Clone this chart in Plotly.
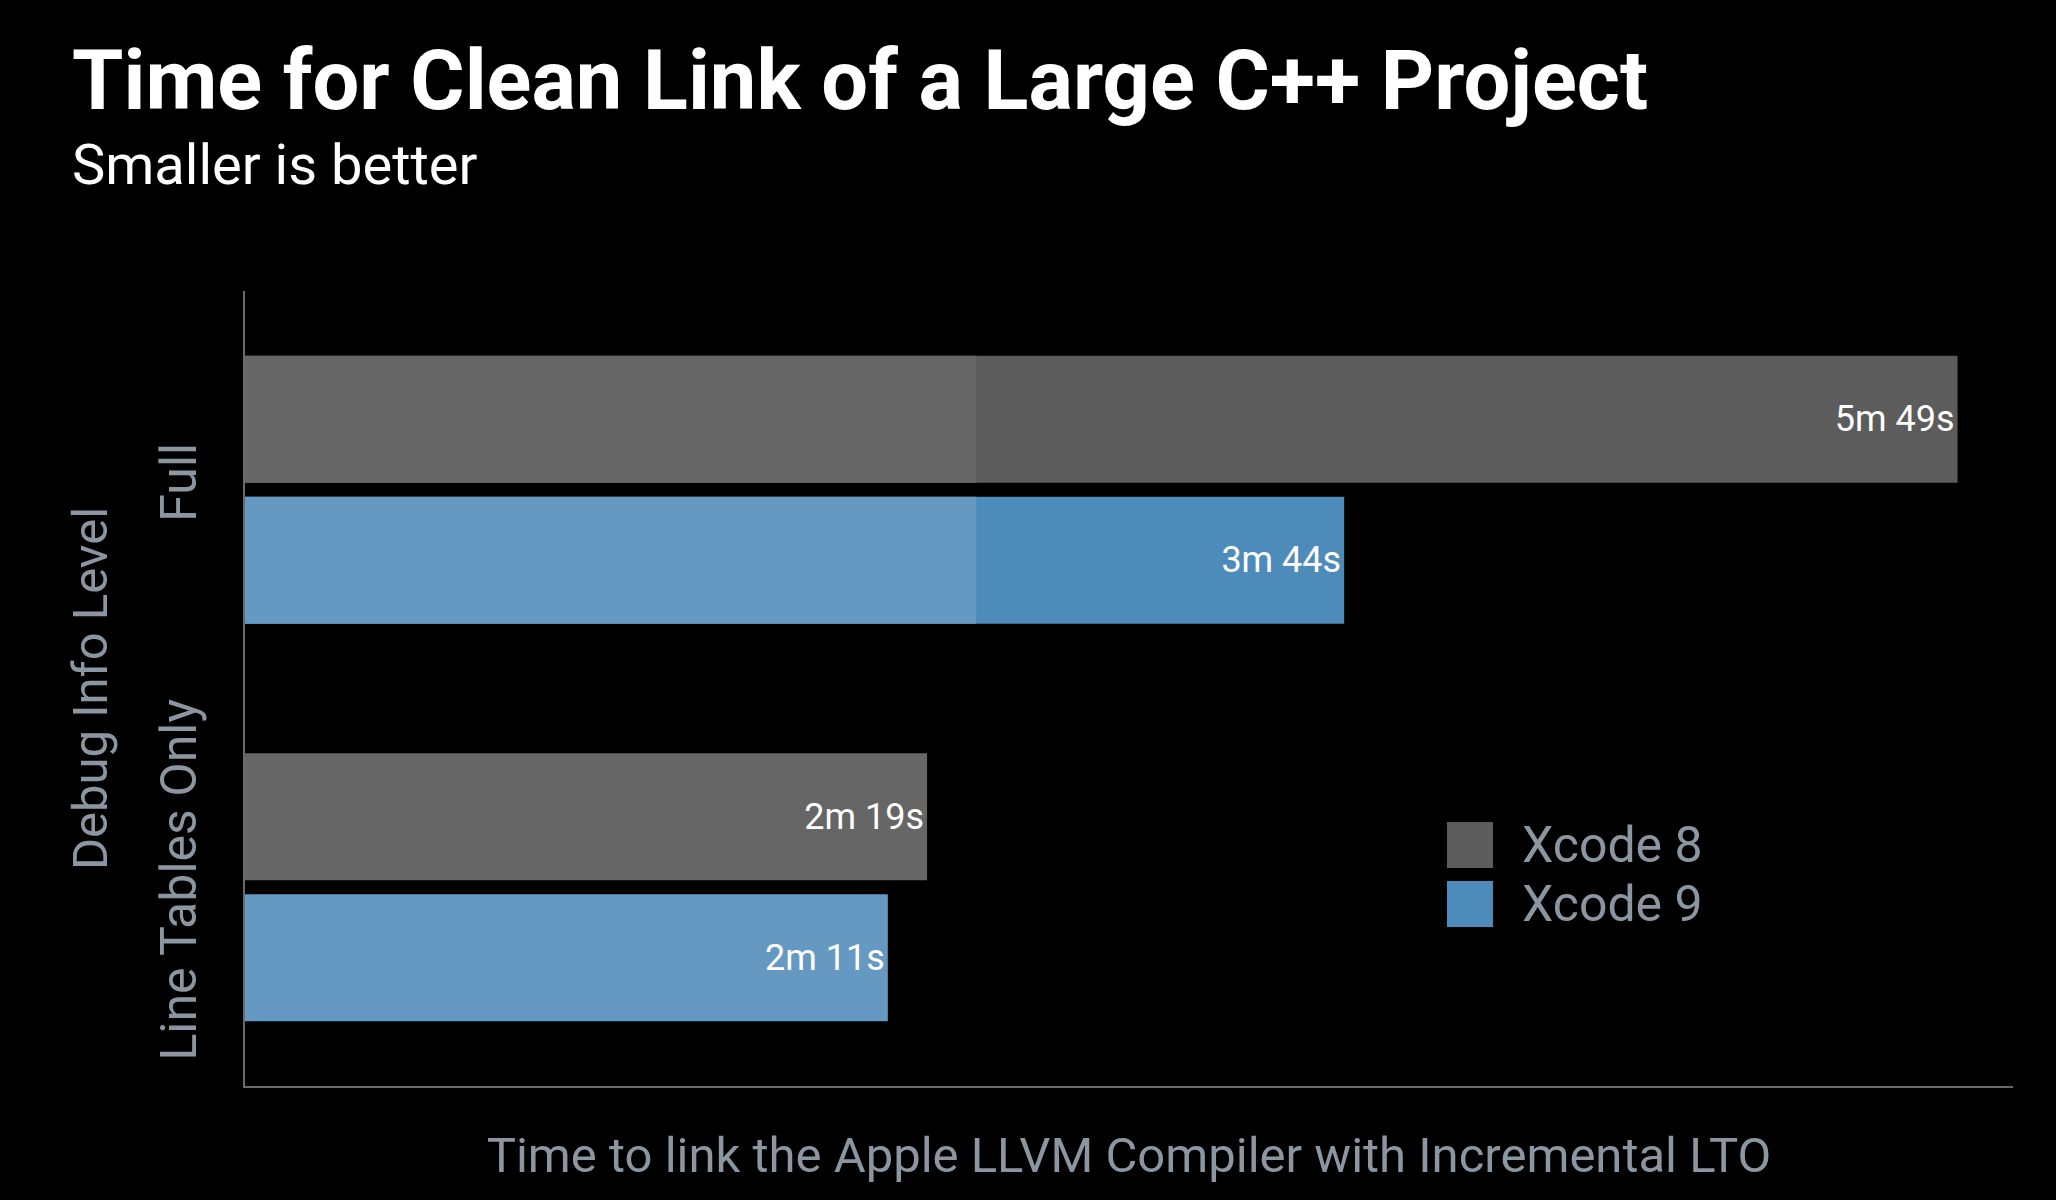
import plotly.graph_objects as go

# ---- data ----
categories = ["Full", "Line Tables Only"]
xcode8_seconds = [349, 139]
xcode9_seconds = [224, 131]
# lighter leading segment visible on the "Full" bars (seconds)
highlight_categories = ["Full"]
highlight_seconds = [149]
series_names = ["Xcode 8", "Xcode 9"]

title_text = "Time for Clean Link of a Large C++ Project"
subtitle_text = "Smaller is better"
x_title = "Time to link the Apple LLVM Compiler with Incremental LTO"
y_title = "Debug Info Level"

# ---- styles ----
GRAY_DARK = "#5c5c5c"
GRAY_LIGHT = "#666666"
BLUE_DARK = "#4d8cba"
BLUE_LIGHT = "#6699c2"
LABEL_GRAY = "#8b96a1"
FONT = "Roboto"


def fmt(s):
    return f"{s // 60}m {s % 60}s"


fig = go.Figure()

fig.add_trace(go.Bar(
    name=series_names[0], y=categories, x=xcode8_seconds, orientation="h",
    offsetgroup="x8",
    marker=dict(color=[GRAY_DARK, GRAY_LIGHT], line=dict(width=0)),
    text=[fmt(v) for v in xcode8_seconds], textposition="inside",
    insidetextanchor="end", textangle=0,
    textfont=dict(family=FONT, size=36, color="white"),
    showlegend=False, hoverinfo="skip",
))
fig.add_trace(go.Bar(
    name=series_names[1], y=categories, x=xcode9_seconds, orientation="h",
    offsetgroup="x9",
    marker=dict(color=[BLUE_DARK, BLUE_LIGHT], line=dict(width=0)),
    text=[fmt(v) for v in xcode9_seconds], textposition="inside",
    insidetextanchor="end", textangle=0,
    textfont=dict(family=FONT, size=36, color="white"),
    showlegend=False, hoverinfo="skip",
))
# lighter overlays on the Full bars
fig.add_trace(go.Bar(
    y=highlight_categories, x=highlight_seconds, orientation="h",
    offsetgroup="x8", marker=dict(color=GRAY_LIGHT, line=dict(width=0)),
    showlegend=False, hoverinfo="skip",
))
fig.add_trace(go.Bar(
    y=highlight_categories, x=highlight_seconds, orientation="h",
    offsetgroup="x9", marker=dict(color=BLUE_LIGHT, line=dict(width=0)),
    showlegend=False, hoverinfo="skip",
))

W, H = 2056, 1200
L, R, T, B = 245, 43, 291, 114
pw, ph = W - L - R, H - T - B


def px_x(x):
    return (x - L) / pw


def px_y(y):
    return (H - B - y) / ph


annotations = [
    dict(text=f"<b>{title_text}</b>", xref="paper", yref="paper",
         x=px_x(70), y=px_y(80), xanchor="left", yanchor="middle",
         showarrow=False, font=dict(family=FONT, size=83, color="white")),
    dict(text=subtitle_text, xref="paper", yref="paper",
         x=px_x(70), y=px_y(165), xanchor="left", yanchor="middle",
         showarrow=False, font=dict(family=FONT, size=56, color="white")),
]
shapes = []
legend_colors = [GRAY_DARK, BLUE_DARK]
legend_tops = [822, 881]
for name, col, top in zip(series_names, legend_colors, legend_tops):
    shapes.append(dict(type="rect", xref="paper", yref="paper",
                       x0=px_x(1447), x1=px_x(1493), y0=px_y(top + 46), y1=px_y(top),
                       fillcolor=col, line=dict(width=0)))
    annotations.append(dict(text=name, xref="paper", yref="paper",
                            x=px_x(1520), y=px_y(top + 23), xanchor="left",
                            yanchor="middle", showarrow=False,
                            font=dict(family=FONT, size=50, color=LABEL_GRAY)))

fig.update_layout(
    width=W, height=H,
    margin=dict(l=L, r=R, t=T, b=B, autoexpand=False),
    paper_bgcolor="black", plot_bgcolor="black",
    barmode="group", bargap=0.29, bargroupgap=0.1,
    annotations=annotations, shapes=shapes,
    showlegend=False,
    xaxis=dict(range=[0, 360.3], showgrid=False, zeroline=False,
               showticklabels=False, ticks="", showline=True,
               linecolor="#6a6a6a", linewidth=1.5,
               title=dict(text=x_title, standoff=51,
                          font=dict(family=FONT, size=49, color=LABEL_GRAY))),
    yaxis=dict(type="category", categoryorder="array", categoryarray=categories,
               autorange="reversed", showgrid=False, zeroline=False,
               showline=True, linecolor="#6a6a6a", linewidth=1.5,
               ticks="", tickangle=-90, ticklabelstandoff=27,
               tickfont=dict(family=FONT, size=50, color=LABEL_GRAY),
               title=dict(text=y_title, standoff=27,
                          font=dict(family=FONT, size=49, color=LABEL_GRAY))),
)

fig.write_html(
    "out.html",
    config={"displayModeBar": False},
    post_script="document.body.style.margin='0';document.body.style.background='black';"
                "document.documentElement.style.background='black';",
)
